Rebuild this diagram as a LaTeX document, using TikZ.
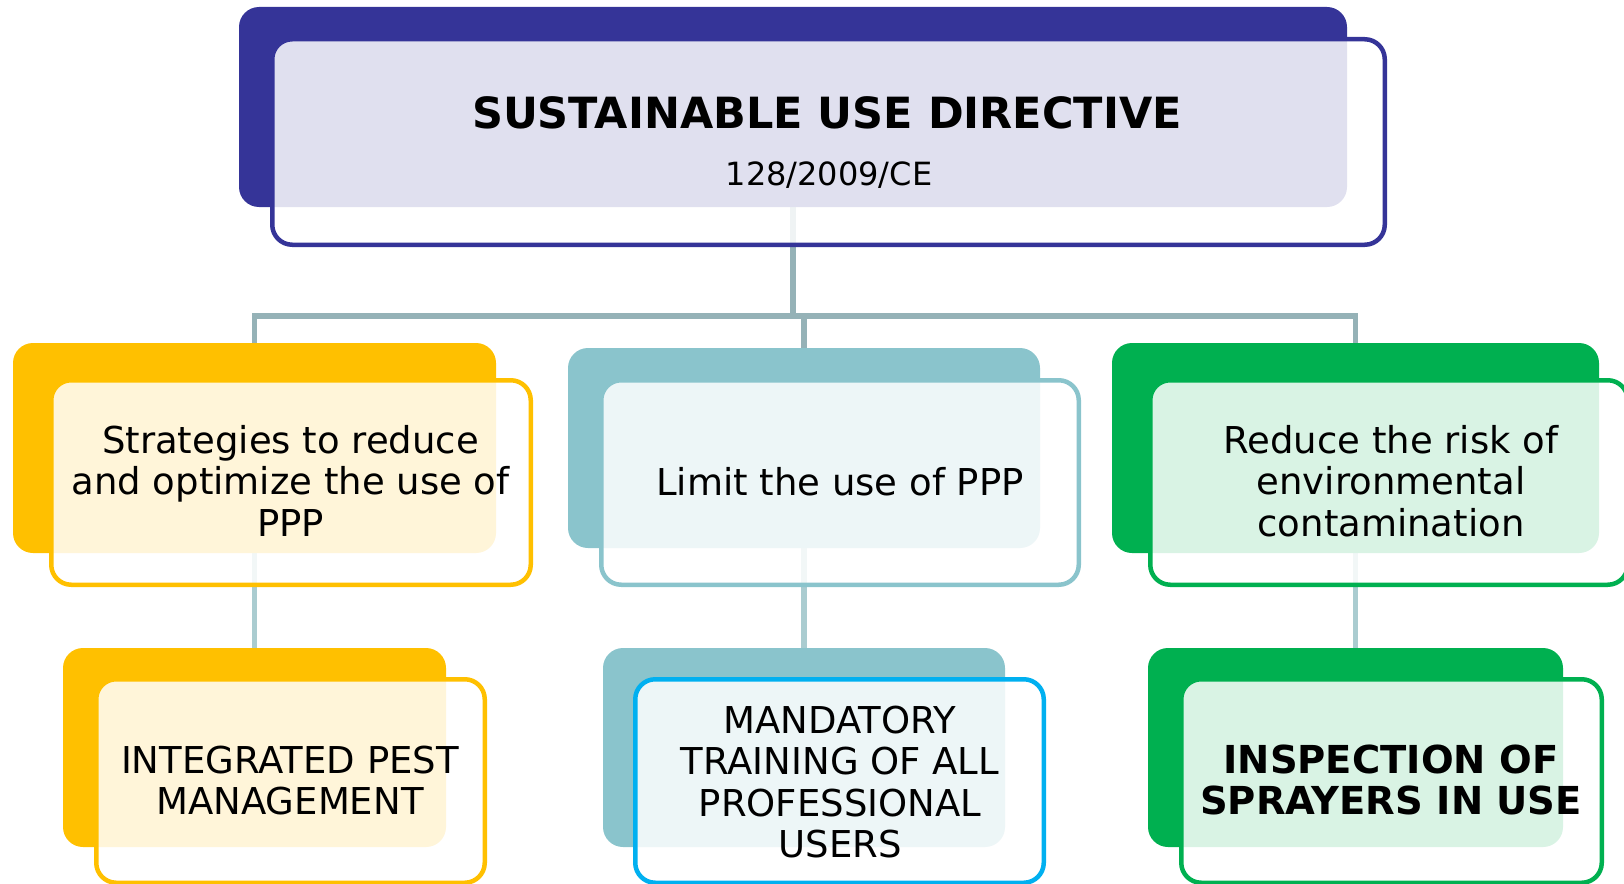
\documentclass[tikz,border=0pt]{standalone}
\usepackage{fontspec}
\setmainfont{DejaVu Sans}
\definecolor{navy}{RGB}{53,52,152}
\definecolor{ambr}{RGB}{255,192,0}
\definecolor{tealb}{RGB}{138,196,204}
\definecolor{grn}{RGB}{0,176,80}
\definecolor{cyn}{RGB}{0,176,240}
\definecolor{connc}{RGB}{149,178,183}
\definecolor{connd}{RGB}{170,204,208}
\newcommand\lstrut{\rule[-11pt]{0pt}{41.5pt}}
\tikzset{
  backbox/.style={rectangle, rounded corners=20pt, inner sep=0pt, draw=none},
  frontbox/.style={rectangle, rounded corners=20pt, inner sep=0pt, line width=4.5pt, fill=white, fill opacity=0.85},
  conn/.style={line width=5.5pt, draw=connc},
  connlow/.style={line width=5.5pt, draw=connd},
  lbl/.style={font=\fontsize{37}{41.5}\selectfont, align=center, inner sep=0pt},
  lblb/.style={font=\fontsize{38.5}{41.5}\selectfont\bfseries, align=center, inner sep=0pt},
}
\begin{document}
\begin{tikzpicture}[x=1pt,y=-1pt]
\useasboundingbox (0,0) rectangle (1624,883);
\clip (0,0) rectangle (1624,883);
% centre points of the back boxes and the junction of the bus
\coordinate (tbc) at (793,107);
\coordinate (jt) at (793,316);
\coordinate (mlc) at (254.5,448);
\coordinate (mmc) at (804,448);
\coordinate (mrc) at (1355.5,448);
\coordinate (blc) at (254.5,747.5);
\coordinate (bmc) at (804,747.5);
\coordinate (brc) at (1355.5,747.5);
% connectors (behind the boxes)
\draw[conn] (tbc) -- (jt);
\draw[conn] (mlc) |- (jt) -| (mrc);
\draw[conn] (mmc) -- (mmc |- jt);
\draw[connlow] (mlc) -- (blc);
\draw[connlow] (mmc) -- (bmc);
\draw[connlow] (mrc) -- (brc);
% back boxes
\node[backbox, fill=navy, minimum width=1108pt, minimum height=200pt] (tb) at (tbc) {};
\node[backbox, fill=ambr, minimum width=483pt, minimum height=210pt] (mlb) at (mlc) {};
\node[backbox, fill=tealb, minimum width=472pt, minimum height=200pt] (mmb) at (mmc) {};
\node[backbox, fill=grn, minimum width=487pt, minimum height=210pt] (mrb) at (mrc) {};
\node[backbox, fill=ambr, minimum width=383pt, minimum height=199pt] (blb) at (blc) {};
\node[backbox, fill=tealb, minimum width=402pt, minimum height=199pt] (bmb) at (bmc) {};
\node[backbox, fill=grn, minimum width=415pt, minimum height=199pt] (brb) at (brc) {};
% front boxes
\node[frontbox, draw=navy, minimum width=1112.5pt, minimum height=205.5pt] (tf) at (828.5,142) {};
\node[frontbox, draw=ambr, minimum width=479.5pt, minimum height=204.5pt] (mlf) at (291,482.5) {};
\node[frontbox, draw=tealb, minimum width=477.5pt, minimum height=204.5pt] (mmf) at (840,482.5) {};
\node[frontbox, draw=grn, minimum width=477.5pt, minimum height=204.5pt] (mrf) at (1389,482.5) {};
\node[frontbox, draw=ambr, minimum width=388.5pt, minimum height=203.5pt] (blf) at (290.5,781) {};
\node[frontbox, draw=cyn, minimum width=408.5pt, minimum height=203.5pt] (bmf) at (839.5,781) {};
\node[frontbox, draw=grn, minimum width=420.5pt, minimum height=203.5pt] (brf) at (1391.5,781) {};
% texts
\node[anchor=base, inner sep=0pt, font=\fontsize{43}{48}\selectfont\bfseries] (title) at (827,128) {SUSTAINABLE USE DIRECTIVE};
\node[anchor=base, inner sep=0pt, font=\fontsize{32}{38}\selectfont] (sub) at (829,185) {128/2009/CE};
\node[lbl] (tml) at (290.5,484.75) {\lstrut Strategies to reduce\\\lstrut and optimize the use of\\\lstrut PPP};
\node[lbl] (tmm) at (840,485.25) {\lstrut Limit the use of PPP};
\node[lbl] (tmr) at (1391,484.75) {\lstrut Reduce the risk of\\\lstrut environmental\\\lstrut contamination};
\node[lbl] (tbl) at (290,784) {\lstrut INTEGRATED PEST\\\lstrut MANAGEMENT};
\node[lbl] (tbm) at (840,785.5) {\lstrut MANDATORY\\\lstrut TRAINING OF ALL\\\lstrut PROFESSIONAL\\\lstrut USERS};
\node[lblb] (tbr) at (1391,784) {\lstrut INSPECTION OF\\\lstrut SPRAYERS IN USE};
\end{tikzpicture}
\end{document}
